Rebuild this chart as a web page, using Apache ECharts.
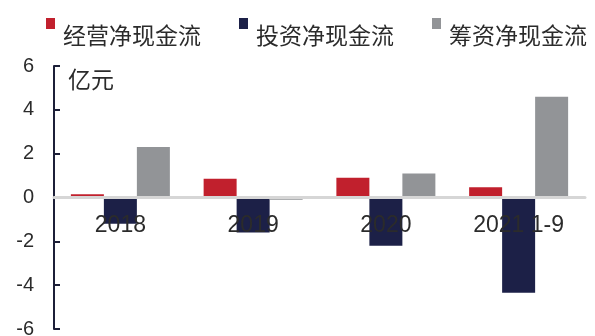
<!DOCTYPE html>
<html>
<head>
<meta charset="utf-8">
<script src="https://cdn.jsdelivr.net/npm/echarts@6/dist/echarts.min.js"></script>
<style>
  html, body { margin: 0; padding: 0; background: #ffffff; }
  #chart { width: 595px; height: 336px; }
</style>
</head>
<body>
<div id="chart"></div>
<script>
// Cash-flow breakdown by period (unit: 亿元)
const categories = ['2018', '2019', '2020', '2021 1-9'];
const seriesNames = ['经营净现金流', '投资净现金流', '筹资净现金流'];
const operating = [0.15, 0.85, 0.9, 0.47];
const investing = [-1.2, -1.6, -2.2, -4.35];
const financing = [2.3, -0.1, 1.1, 4.6];
const yTicks = { min: -6, max: 6, step: 2 };
const unitLabel = '亿元';

const colors = ['#c1202d', '#1c2047', '#929497'];
// legend marker: small square sitting high beside the text
const marker = 'path://M0,0h9v11h-9z M11.9,33.9h0.1v0.1h-0.1z';

const W = 595, H = 336;
const grid = { left: 54, right: 10, top: 66, bottom: 7 };
// lift the category axis from the grid bottom up to the zero value
const plotH = H - grid.top - grid.bottom;
const zeroOffset = -plotH * (0 - yTicks.min) / (yTicks.max - yTicks.min);

const chart = echarts.init(document.getElementById('chart'), null, { renderer: 'canvas' });

const values = [operating, investing, financing];

chart.setOption({
  animation: false,
  color: colors,
  legend: {
    left: 46,
    top: 18,
    padding: 0,
    itemGap: 38,
    itemWidth: 12,
    itemHeight: 34,
    icon: marker,
    textStyle: { fontSize: 23, color: '#2b2b2b', fontFamily: 'Noto Sans CJK SC' },
    data: seriesNames
  },
  grid: Object.assign({ containLabel: false, outerBoundsMode: 'none' }, grid),
  xAxis: {
    type: 'category',
    data: categories,
    position: 'bottom',
    offset: zeroOffset,
    z: 10,
    axisLine: { onZero: false, lineStyle: { color: '#d6d6d6', width: 3 } },
    axisTick: { show: false },
    axisLabel: {
      interval: 0,
      margin: 17,
      fontSize: 23,
      color: '#2b2b2b',
      fontFamily: 'Liberation Sans'
    }
  },
  yAxis: {
    type: 'value',
    min: yTicks.min,
    max: yTicks.max,
    interval: yTicks.step,
    splitLine: { show: false },
    axisLine: { show: true, lineStyle: { color: '#1c1f38', width: 2 } },
    axisTick: { show: true, inside: true, length: 6, lineStyle: { color: '#1c1f38', width: 2 } },
    axisLabel: {
      margin: 20,
      fontSize: 20,
      color: '#2b2b2b',
      fontFamily: 'Liberation Sans'
    }
  },
  graphic: [{
    type: 'text',
    left: 68,
    top: 68,
    style: { text: unitLabel, fontSize: 23, fill: '#2b2b2b', fontFamily: 'Noto Sans CJK SC' }
  }],
  series: seriesNames.map((name, i) => ({
    name: name,
    type: 'bar',
    data: values[i],
    barWidth: 33,
    barGap: '0%',
    itemStyle: { color: colors[i] }
  }))
});
</script>
</body>
</html>
